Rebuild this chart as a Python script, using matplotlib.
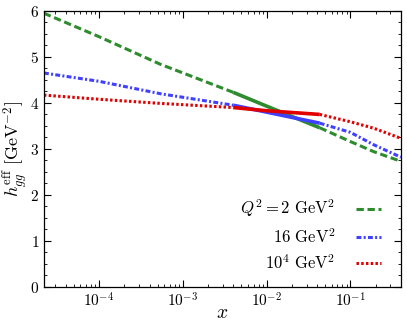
import matplotlib
matplotlib.use("Agg")
import matplotlib.pyplot as plt
import numpy as np
from matplotlib.ticker import LogLocator, MultipleLocator, NullFormatter

plt.rcParams["font.family"] = "serif"
plt.rcParams["font.serif"] = ["cmr10"]
plt.rcParams["mathtext.fontset"] = "cm"
plt.rcParams["axes.formatter.use_mathtext"] = True

# DATA
# -----------------------------------------------
x_vals = [2.2e-5, 1e-4, 5.4e-4, 4e-3, 1e-2, 4.3e-2, 0.1, 0.19, 0.4]

h_q2 = [5.95, 5.44, 4.84, 4.23, 3.93, 3.46, 3.16, 2.94, 2.73]
h_q16 = [4.65, 4.47, 4.20, 3.95, 3.80, 3.56, 3.36, 3.09, 2.82]
h_q1e4 = [4.17, 4.08, 3.99, 3.90, 3.83, 3.75, 3.59, 3.45, 3.23]

labels = [r"$Q^2 = 2\ \mathrm{GeV}^2$", r"$16\ \mathrm{GeV}^2$", r"$10^4\ \mathrm{GeV}^2$"]
colors = ["#2e8b2e", "#4040ff", "#e00000"]
styles = [(0, (2.4, 1.2)), (0, (1.6, 0.75, 0.65, 0.75)), (0, (0.8, 0.75))]

# solid band where the data is measured
x_lo, x_hi = 4e-3, 4.3e-2

# PLOTTING
# -----------------------------------------------
fig = plt.figure(figsize=(4.07, 3.22), dpi=100)
ax = fig.add_axes([0.108, 0.109, 0.877, 0.857])

x = np.array(x_vals)
lo = x <= x_lo
mid = (x >= x_lo) & (x <= x_hi)
hi = x >= x_hi

for h, c, ls, lab in zip([h_q2, h_q16, h_q1e4], colors, styles, labels):
    h = np.array(h)
    ax.plot(x[lo], h[lo], color=c, ls=ls, lw=2.2, dash_capstyle="butt")
    ax.plot(x[mid], h[mid], color=c, ls="-", lw=2.6, solid_capstyle="butt")
    ax.plot(x[hi], h[hi], color=c, ls=ls, lw=2.2, dash_capstyle="butt", label=lab)

ax.set_xscale("log")
ax.set_xlim(2.2e-5, 0.4)
ax.set_ylim(0, 6)

ax.xaxis.set_major_locator(LogLocator(base=10, numticks=10))
ax.xaxis.set_minor_locator(LogLocator(base=10, subs=np.arange(2, 10), numticks=20))
ax.xaxis.set_minor_formatter(NullFormatter())
ax.yaxis.set_major_locator(MultipleLocator(1))
ax.yaxis.set_minor_locator(MultipleLocator(0.25))

ax.tick_params(which="both", direction="in", top=True, right=True, labelsize=11)
ax.tick_params(which="major", length=5, width=0.8)
ax.tick_params(which="minor", length=2.5, width=0.6)
for s in ax.spines.values():
    s.set_linewidth(0.9)

ax.set_xlabel(r"$x$", fontsize=14, labelpad=-4)
ax.set_ylabel(r"$h_{gg}^{\mathrm{eff}}\ [\mathrm{GeV}^{-2}]$", fontsize=13, labelpad=0)

ax.legend(loc="lower right", frameon=False, markerfirst=False, fontsize=12,
          handlelength=1.5, labelspacing=0.45, handletextpad=1.2,
          bbox_to_anchor=(0.985, 0.0))

fig.savefig("out.png", dpi=100)
